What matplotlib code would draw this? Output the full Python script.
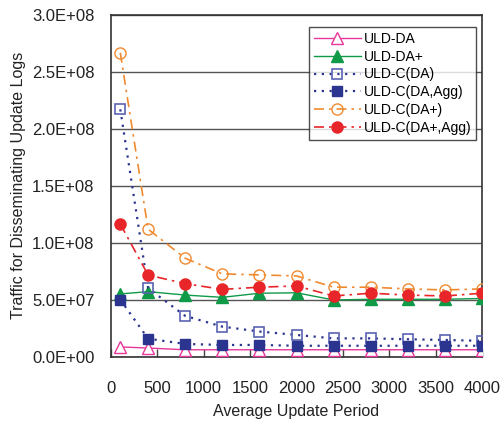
import matplotlib
matplotlib.use("Agg")
import matplotlib.pyplot as plt
from matplotlib.ticker import FuncFormatter, MultipleLocator

plt.rcParams['font.family'] = ['Liberation Sans', 'DejaVu Sans']

period = [100, 400, 800, 1200, 1600, 2000, 2400, 2800, 3200, 3600, 4000]

uld_da = [0.085e8, 0.075e8, 0.06e8, 0.06e8, 0.06e8, 0.06e8, 0.06e8, 0.06e8, 0.06e8, 0.06e8, 0.06e8]
uld_da_plus = [0.55e8, 0.57e8, 0.54e8, 0.52e8, 0.556e8, 0.56e8, 0.497e8, 0.503e8, 0.503e8, 0.503e8, 0.51e8]
uld_c_da = [2.17e8, 0.60e8, 0.357e8, 0.263e8, 0.22e8, 0.19e8, 0.16e8, 0.16e8, 0.152e8, 0.146e8, 0.138e8]
uld_c_da_agg = [0.50e8, 0.157e8, 0.111e8, 0.102e8, 0.102e8, 0.095e8, 0.095e8, 0.095e8, 0.095e8, 0.095e8, 0.095e8]
uld_c_dap = [2.667e8, 1.118e8, 0.863e8, 0.726e8, 0.717e8, 0.708e8, 0.609e8, 0.609e8, 0.594e8, 0.585e8, 0.594e8]
uld_c_dap_agg = [1.164e8, 0.716e8, 0.64e8, 0.59e8, 0.609e8, 0.62e8, 0.532e8, 0.556e8, 0.54e8, 0.532e8, 0.556e8]

series_labels = ["ULD-DA", "ULD-DA+", "ULD-C(DA)", "ULD-C(DA,Agg)", "ULD-C(DA+)", "ULD-C(DA+,Agg)"]

fig = plt.figure(figsize=(5.0, 4.22), dpi=100)
ax = fig.add_axes([0.222, 0.155, 0.742, 0.81])

pink = "#e8379a"
green = "#0f9a48"
navy = "#2b3590"
lightnavy = "#5a64b4"
orange = "#f08a30"
red = "#e8262a"

ax.plot(period, uld_da, color=pink, lw=1.0, marker="^", ms=8,
        mfc="white", mec=pink, mew=1.0, label=series_labels[0], zorder=3)
ax.plot(period, uld_da_plus, color=green, lw=1.0, marker="^", ms=8,
        mfc=green, mec=green, label=series_labels[1], zorder=3)
ax.plot(period, uld_c_da, color=navy, lw=1.6, ls=(0, (1, 2.5)), marker="s", ms=7.5,
        mfc="none", mec=lightnavy, mew=1.2, label=series_labels[2], zorder=4)
ax.plot(period, uld_c_da_agg, color=navy, lw=1.6, ls=(0, (1, 2.5)), marker="s", ms=7.5,
        mfc=navy, mec=navy, label=series_labels[3], zorder=4)
ax.plot(period, uld_c_dap, color=orange, lw=1.2, ls=(0, (6, 3, 1.5, 3)), marker="o", ms=8,
        mfc="none", mec=orange, mew=1.0, label=series_labels[4], zorder=4)
ax.plot(period, uld_c_dap_agg, color=red, lw=1.2, ls=(0, (6, 3, 1.5, 3)), marker="o", ms=8,
        mfc=red, mec=red, label=series_labels[5], zorder=4)

ax.set_xlim(0, 4000)
ax.set_ylim(0, 3.0e8)
ax.xaxis.set_major_locator(MultipleLocator(500))
ax.yaxis.set_major_locator(MultipleLocator(0.5e8))
ax.yaxis.set_major_formatter(FuncFormatter(lambda v, p: f"{v:.1E}"))

ax.grid(axis="y", color="#555555", lw=1.0)
ax.set_axisbelow(True)
ax.tick_params(axis="x", direction="in", length=6, width=1, color="#444444",
               labelsize=12, pad=17.5, labelcolor="#222222")
ax.tick_params(axis="y", length=0, labelsize=12, pad=12, labelcolor="#222222")
for s in ax.spines.values():
    s.set_color("#333333")
    s.set_linewidth(1.2)

ax.set_xlabel("Average Update Period", fontsize=11.5, labelpad=6, color="#222222")
ax.set_ylabel("Traffic for Disseminating Update Logs", fontsize=11.5, labelpad=4,
              color="#222222")

leg = ax.legend(loc="upper right", bbox_to_anchor=(0.984, 0.964), fontsize=10,
                frameon=True, fancybox=False, edgecolor="#222222",
                handlelength=3.4, labelspacing=0.27, borderpad=0.35,
                handletextpad=0.2, borderaxespad=0.0)
leg.get_frame().set_linewidth(1.0)

fig.savefig("out.png", dpi=100)
